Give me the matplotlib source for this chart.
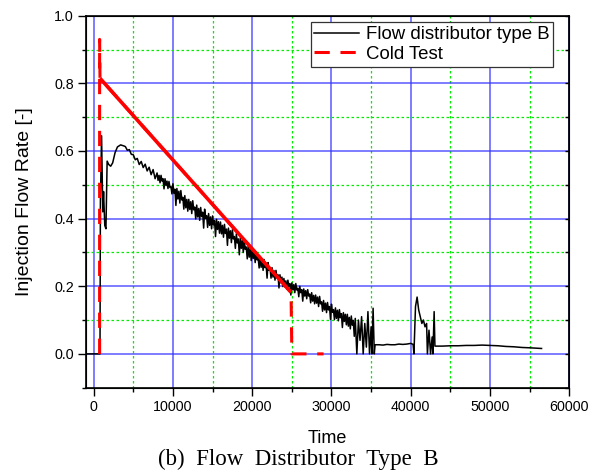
import matplotlib
matplotlib.use("Agg")
import matplotlib.pyplot as plt
from matplotlib.ticker import MultipleLocator

plt.rcParams['font.family'] = ['Liberation Sans', 'DejaVu Sans']

# black curve: flow distributor type B
# start-up transient and first part of the decline
time_start = [-1000, 800, 850, 1000, 1150, 1250, 1400, 1550, 1700, 1900, 2150,
              2400, 2700, 3000, 3400, 3800,
              4000, 4250, 4500, 4750, 5000, 5250, 5500, 5750, 6000, 6250,
              6500, 6750, 7000, 7250, 7500, 7750]
flow_start = [0.0, 0.0, 0.45, 0.645, 0.42, 0.48, 0.38, 0.37, 0.57, 0.56, 0.555,
              0.565, 0.595, 0.612, 0.618, 0.615,
              0.613, 0.602, 0.604, 0.590, 0.589, 0.574, 0.578, 0.560, 0.569, 0.551,
              0.561, 0.541, 0.552, 0.530, 0.545, 0.518]

# noisy decline, logged every 125 s from 8000 to 32875
time_noisy = list(range(8000, 33000, 125))
flow_noisy = [
    .535, .513, .528, .506, .528, .511, .518, .488, .518, .498, .511, .489, .510, .492, .495, .473,
    .503, .475, .487, .439, .489, .458, .481, .446, .483, .455, .463, .428, .468, .432, .457, .422,
    .457, .427, .450, .415, .453, .426, .434, .399, .440, .405, .430, .395, .433, .406, .419, .372,
    .428, .401, .409, .374, .415, .380, .405, .370, .408, .381, .394, .347, .398, .368, .391, .357,
    .390, .355, .380, .345, .383, .356, .369, .321, .372, .342, .364, .329, .367, .340, .347, .312,
    .355, .328, .340, .293, .343, .312, .335, .300, .337, .309, .316, .281, .321, .286, .311, .276,
    .309, .282, .302, .270, .302, .278, .284, .254, .288, .256, .279, .247, .279, .255, .265, .224,
    .270, .247, .253, .224, .255, .227, .246, .218, .247, .224, .234, .195, .234, .210, .227, .199,
    .223, .198, .216, .191, .218, .199, .208, .174, .210, .189, .205, .181, .208, .189, .194, .169,
    .200, .181, .190, .156, .192, .171, .187, .163, .190, .171, .177, .151, .181, .156, .173, .148,
    .174, .150, .168, .140, .170, .148, .154, .126, .158, .130, .150, .122, .152, .130, .140, .102,
    .147, .123, .131, .101, .136, .105, .129, .098, .131, .107, .119, .078, .122, .096, .117, .086,
    .117, .082, .108, .074, .112, .085, .099, .052]

# dropouts, low plateau and the second pulse
time_end = [33000, 33200, 33400, 33600, 33800, 34000, 34200, 34400, 34600, 34800,
            35000, 35100, 35250, 35400, 35500,
            36000, 36500, 37000, 37500, 38000, 38500, 39000, 39500, 40000, 40300,
            40400, 40600, 40800, 41000, 41200, 41400, 41600, 41800, 42000, 42100,
            42300, 42500, 42700, 42800, 42950, 43050,
            44000, 45000, 46000, 47000, 48000, 49000, 50000, 51000, 52000, 53000,
            54000, 55000, 56500]
flow_end = [0.105, 0.0, 0.10, 0.04, 0.11, 0.0, 0.09, 0.02, 0.125, 0.0,
            0.08, 0.0, 0.135, 0.0, 0.027,
            0.027, 0.026, 0.028, 0.027, 0.027, 0.029, 0.028, 0.029, 0.031, 0.028,
            0.0, 0.14, 0.168, 0.13, 0.11, 0.09, 0.10, 0.08, 0.09, 0.0,
            0.07, 0.0, 0.05, 0.0, 0.125, 0.023,
            0.023, 0.024, 0.024, 0.025, 0.025, 0.026, 0.025, 0.024, 0.022, 0.021,
            0.019, 0.018, 0.016]

time_b = time_start + time_noisy + time_end
flow_b = flow_start + flow_noisy + flow_end

# red curve: cold test
time_cold = [750, 750, 800, 24900, 25000, 29000]
flow_cold = [0.0, 0.93, 0.815, 0.182, 0.0, 0.0]

fig = plt.figure(figsize=(5.97, 4.72), dpi=100)
ax = fig.add_axes([0.1436, 0.1786, 0.8100, 0.7881])

ax.plot(time_b, flow_b, color='black', lw=1.1, label='Flow distributor type B')
ax.plot(time_cold, flow_cold, color='red', lw=2.2, dashes=(5, 3.5),
        label='Cold Test')
# dense sloped section reads as a solid stroke
ax.plot(time_cold[2:4], flow_cold[2:4], color='red', lw=2.6,
        solid_capstyle='butt')

ax.set_xlim(-1000, 60000)
ax.set_ylim(-0.1, 1.0)
ax.xaxis.set_major_locator(MultipleLocator(10000))
ax.xaxis.set_minor_locator(MultipleLocator(5000))
ax.yaxis.set_minor_locator(MultipleLocator(0.1))
ax.set_yticks([0.0, 0.2, 0.4, 0.6, 0.8, 1.0])
ax.yaxis.set_major_formatter(plt.FormatStrFormatter('%.1f'))

ax.grid(which='major', color='#3333ff', lw=1.2, alpha=0.75)
ax.grid(which='minor', color='#00ee00', lw=0.9, linestyle=(0, (2, 2)))
ax.set_axisbelow(True)

ax.tick_params(which='major', direction='out', length=5.5, width=1.0,
               labelsize=10.3, pad=3)
ax.tick_params(which='minor', direction='out', length=3, width=1.0)
for sp in ax.spines.values():
    sp.set_linewidth(1.2)

# short inward ticks on the right spine
ax2 = ax.twinx()
ax2.set_ylim(ax.get_ylim())
ax2.yaxis.set_major_locator(MultipleLocator(0.2))
ax2.yaxis.set_minor_locator(MultipleLocator(0.1))
ax2.tick_params(which='both', direction='in', length=3, width=1.0,
                labelright=False)

ax.set_xlabel('Time', fontsize=13, labelpad=12)
ax.set_ylabel('Injection Flow Rate [-]', fontsize=14, labelpad=15)

leg = ax.legend(loc='upper right', bbox_to_anchor=(0.966, 0.982),
                borderaxespad=0, fontsize=13.4, fancybox=False, framealpha=1,
                edgecolor='#333333', handlelength=2.4, handletextpad=0.35,
                labelspacing=0.15, borderpad=0.2)
leg.get_frame().set_linewidth(0.9)

fig.text(0.5, 0.004, '(b)  Flow  Distributor  Type  B', ha='center',
         va='bottom', fontsize=16.5, family=['Liberation Serif', 'DejaVu Serif'])

fig.savefig('out.png', dpi=100)
